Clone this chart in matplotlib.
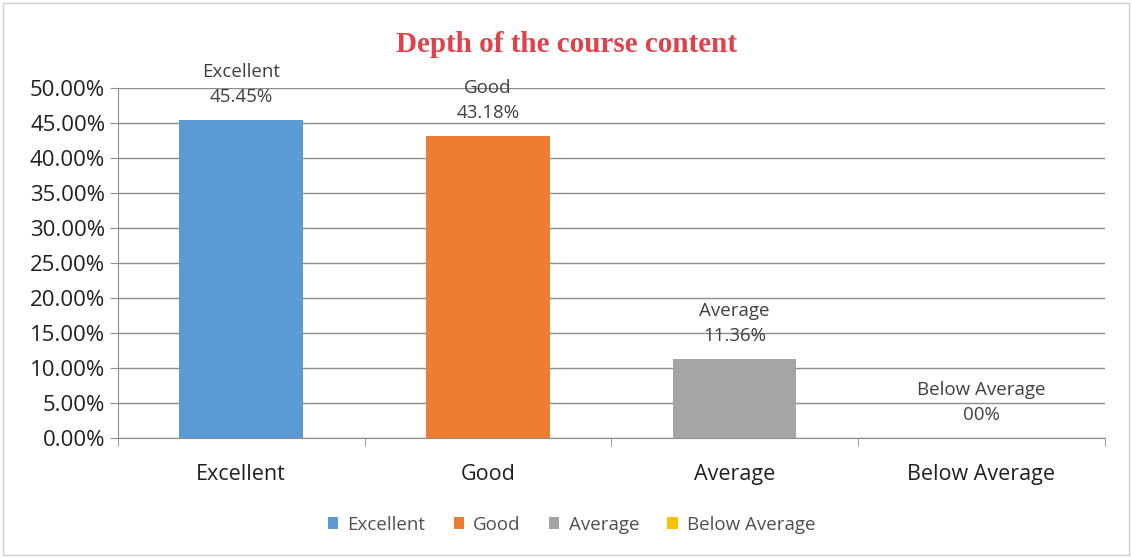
import matplotlib.pyplot as plt
from matplotlib.ticker import FuncFormatter, MultipleLocator
from matplotlib.patches import Rectangle

# ratings and share of responses (%)
categories = ['Excellent', 'Good', 'Average', 'Below Average']
values = [45.45, 43.18, 11.36, 0.0]
value_labels = ['45.45%', '43.18%', '11.36%', '00%']
colors = ['#5B9BD5', '#ED7D31', '#A5A5A5', '#FFC000']

plt.rcParams['font.family'] = ['Open Sans', 'DejaVu Sans']

fig = plt.figure(figsize=(11.32, 5.58), dpi=100)
ax = fig.add_axes([0.104, 0.215, 0.872, 0.627])

x = range(len(categories))
bars = ax.bar(x, values, width=0.5, color=colors, label=categories, zorder=3)

# data labels: category name over value
for i, v in enumerate(values):
    ax.annotate(categories[i] + '\n' + value_labels[i], (i, v),
                xytext=(0, 10), textcoords='offset points',
                ha='center', va='bottom', fontsize=13.5, color='#404040',
                linespacing=1.5)

ax.set_xlim(-0.5, 3.5)
ax.set_ylim(0, 50)
ax.yaxis.set_major_locator(MultipleLocator(5))
ax.yaxis.set_major_formatter(FuncFormatter(lambda v, p: '%.2f%%' % v))
ax.grid(axis='y', color='#8c8c8c', linewidth=1, zorder=0)

ax.set_xticks(list(x))
ax.set_xticklabels(categories, fontsize=15.5, color='#202020')
ax.set_xticks([-0.5, 0.5, 1.5, 2.5, 3.5], minor=True)
ax.tick_params(axis='x', which='major', length=0, pad=19)
ax.tick_params(axis='x', which='minor', length=6, color='#8c8c8c')
ax.tick_params(axis='y', length=6, pad=3, color='#8c8c8c', labelsize=16, labelcolor='#202020')

for s in ['top', 'right']:
    ax.spines[s].set_visible(False)
ax.spines['left'].set_color('#8c8c8c')
ax.spines['bottom'].set_color('#8c8c8c')

fig.suptitle('Depth of the course content', y=0.945, fontsize=21, fontweight='bold',
             color='#E2404B', family='Liberation Serif')

fig.legend(handles=bars, labels=categories, loc='center', bbox_to_anchor=(0.505, 0.06),
           ncol=4, frameon=False, fontsize=13.5, handlelength=0.55, handleheight=0.55,
           handletextpad=0.5, columnspacing=1.5, labelcolor='#505050')

fig.patches.append(Rectangle((0.003, 0.005), 0.994, 0.99, transform=fig.transFigure,
                             fill=False, edgecolor='#d0d0d0', linewidth=1))

fig.savefig('out.png', dpi=100)
